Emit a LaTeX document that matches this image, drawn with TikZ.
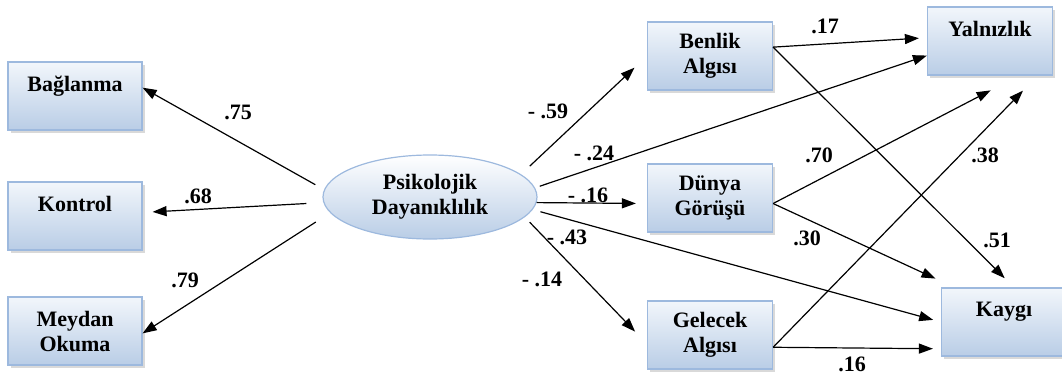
\documentclass[tikz,border=0pt]{standalone}
\usepackage{fontspec}
\setmainfont{Liberation Serif}
\usetikzlibrary{arrows.meta,shadows,shapes.geometric}
\definecolor{boxline}{HTML}{9DB9DE}
\definecolor{boxtop}{HTML}{F2F6FB}
\definecolor{boxbot}{HTML}{B9CDE6}
\begin{document}
\begin{tikzpicture}[x=1pt,y=-1pt,
  box/.style={draw=boxline,line width=1.2pt,top color=boxtop,bottom color=boxbot,
    minimum width=125pt,minimum height=68pt,inner sep=2pt,align=center,
    font=\bfseries\fontsize{22}{25}\selectfont,
    drop shadow={shadow xshift=2.5pt,shadow yshift=-2.5pt,opacity=0.3}},
  lat/.style={ellipse,draw=boxline,line width=1.2pt,top color=white,bottom color=boxbot,
    minimum width=214pt,minimum height=84pt,inner sep=0pt,align=center,
    font=\bfseries\fontsize{22}{25}\selectfont},
  coef/.style={font=\bfseries\fontsize{22}{25}\selectfont,inner sep=0pt},
  arr/.style={-{Triangle[length=14pt,width=10pt]},line width=1.2pt}]
\useasboundingbox (0,0) rectangle (1062,375);

\node[box,minimum width=134pt] (bag) at (75,96) {Bağlanma\\\phantom{X}};
\node[box,minimum width=134pt] (kon) at (75,216) {Kontrol\\\phantom{X}};
\node[box,minimum width=134pt] (mey) at (75,331) {Meydan\\Okuma};
\node[lat] (psy) at (430,197) {Psikolojik\\Dayanıklılık};
\node[box] (ben) at (710,56) {Benlik\\Algısı};
\node[box] (dun) at (710,198) {Dünya\\Görüşü};
\node[box] (gel) at (710,335) {Gelecek\\Algısı};
\node[box] (yal) at (990,41) {Yalnızlık\\\phantom{X}};
\node[box] (kay) at (1004,322) {Kaygı\\\phantom{X}};

\draw[arr,shorten <=10pt] (psy.176) -- (bag.7);
\draw[arr,shorten <=17pt,shorten >=10pt] (psy.183) -- (kon.3);
\draw[arr,shorten <=17pt] (psy.189) -- (mey.-2);
\draw[arr,shorten <=12pt,shorten >=17pt] (psy.14) -- (ben.west);
\draw[arr,shorten <=5pt] (psy.5) -- (yal.193);
\draw[arr,shorten >=11pt] (psy.-3) -- (dun.185);
\draw[arr,shorten <=8pt,shorten >=8pt] (psy.-7) -- (kay.west);
\draw[arr,shorten <=7pt,shorten >=17pt] (psy.-12) -- (gel.188);
\draw[arr,shorten >=8pt] (ben.8) -- (yal.177);
\draw[arr,shorten >=13pt] (ben.8) -- (kay.74);
\draw[arr,shorten >=32pt] (dun.-5) -- (yal.-50);
\draw[arr,shorten >=21pt] (dun.-5) -- (kay.145);
\draw[arr,shorten >=21pt] (gel.-11) -- (yal.-36);
\draw[arr,shorten >=8pt] (gel.-11) -- (kay.203);

\node[coef] (c75) at (238,112) {.75};
\node[coef] (c68) at (198,196) {.68};
\node[coef] (c79) at (185,280) {.79};
\node[coef] (c59) at (548,111) {- .59};
\node[coef] (c24) at (594,153) {- .24};
\node[coef] (c16) at (588,195) {- .16};
\node[coef] (c43) at (567,237) {- .43};
\node[coef] (c14) at (542,279) {- .14};
\node[coef] (c17) at (825,26) {.17};
\node[coef] (c70) at (819,155) {.70};
\node[coef] (c38) at (985,155) {.38};
\node[coef] (c30) at (807,238) {.30};
\node[coef] (c51) at (997,240) {.51};
\node[coef] (g16) at (852,364) {.16};
\end{tikzpicture}
\end{document}
